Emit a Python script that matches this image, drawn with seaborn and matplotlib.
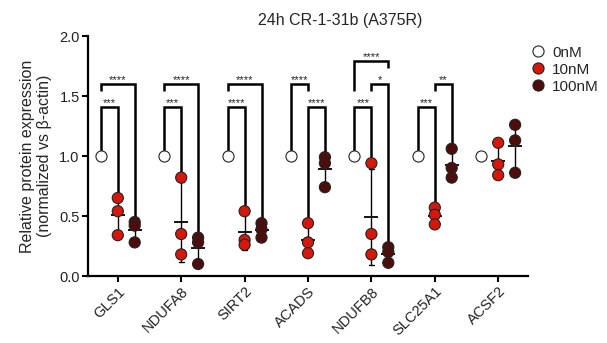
import numpy as np
import pandas as pd
import matplotlib
matplotlib.use("Agg")
import matplotlib.pyplot as plt
from matplotlib.lines import Line2D
import seaborn as sns

# ---------------- data ----------------
genes = ["GLS1", "NDUFA8", "SIRT2", "ACADS", "NDUFB8", "SLC25A1", "ACSF2"]
doses = ["0nM", "10nM", "100nM"]

vals_0nM = [[1.0], [1.0], [1.0], [1.0], [1.0], [1.0], [1.0]]
vals_10nM = [
    [0.65, 0.54, 0.34],
    [0.82, 0.35, 0.18],
    [0.54, 0.30, 0.26],
    [0.44, 0.28, 0.19],
    [0.94, 0.35, 0.18],
    [0.57, 0.51, 0.43],
    [1.11, 0.93, 0.84],
]
vals_100nM = [
    [0.45, 0.42, 0.28],
    [0.32, 0.28, 0.10],
    [0.44, 0.39, 0.32],
    [0.99, 0.94, 0.74],
    [0.24, 0.20, 0.11],
    [1.06, 0.90, 0.82],
    [1.26, 1.13, 0.86],
]

# significance comparisons: (gene, dose_a, dose_b, label, level)
comparisons = [
    ("GLS1", "0nM", "10nM", "***", 1),
    ("GLS1", "0nM", "100nM", "****", 2),
    ("NDUFA8", "0nM", "10nM", "***", 1),
    ("NDUFA8", "0nM", "100nM", "****", 2),
    ("SIRT2", "0nM", "10nM", "****", 1),
    ("SIRT2", "0nM", "100nM", "****", 2),
    ("ACADS", "10nM", "100nM", "****", 1),
    ("ACADS", "0nM", "10nM", "****", 2),
    ("NDUFB8", "0nM", "10nM", "***", 1),
    ("NDUFB8", "10nM", "100nM", "*", 2),
    ("NDUFB8", "0nM", "100nM", "****", 3),
    ("SLC25A1", "0nM", "10nM", "***", 1),
    ("SLC25A1", "10nM", "100nM", "**", 2),
]
level_y = {1: 1.41, 2: 1.60, 3: 1.79}

rows = []
for d, table in zip(doses, [vals_0nM, vals_10nM, vals_100nM]):
    for g, vs in zip(genes, table):
        for v in vs:
            rows.append({"gene": g, "dose": d, "value": v})
df = pd.DataFrame(rows)

# ---------------- style ----------------
sns.set_theme(style="ticks")
plt.rcParams["font.family"] = ["Liberation Sans", "DejaVu Sans"]

fig = plt.figure(figsize=(6.07, 3.43), dpi=100)
ax = fig.add_axes([88 / 607, 1 - 276 / 343, 440 / 607, 240 / 343])

face = {"0nM": "white", "10nM": "#d8170c", "100nM": "#4d0d0a"}

# mean +/- SD
sns.pointplot(
    data=df[df["dose"] != "0nM"], x="gene", y="value", hue="dose",
    order=genes, hue_order=doses, dodge=0.8 * 2 / 3, errorbar="sd",
    capsize=0.08, markers="_", markersize=10, markeredgewidth=1.3,
    linestyle="none", palette={d: "black" for d in doses},
    err_kws={"linewidth": 1.0}, legend=False, ax=ax,
)

# individual points
sns.stripplot(
    data=df, x="gene", y="value", hue="dose", order=genes, hue_order=doses,
    dodge=True, jitter=False, palette=face, size=8, linewidth=0.8,
    edgecolor="#222222", legend=False, ax=ax, zorder=3,
)

# ---------------- brackets ----------------
off = {d: -0.8 / 2 + 0.8 / 3 * (i + 0.5) for i, d in enumerate(doses)}
data_max = df.groupby(["gene", "dose"])["value"].max()
occupied = {}
for g, a, b, lab, lev in sorted(comparisons, key=lambda c: c[4]):
    gi = genes.index(g)
    y = level_y[lev]
    legs = []
    for d in (a, b):
        x = gi + off[d]
        key = (g, d)
        if key in occupied:
            bottom = occupied[key] + 0.13
        else:
            bottom = data_max[(g, d)] + 0.045
        legs.append((x, bottom))
        occupied[key] = y
    (x1, b1), (x2, b2) = legs
    ax.plot([x1, x1, x2, x2], [b1, y, y, b2], color="black", lw=1.8,
            solid_capstyle="butt", solid_joinstyle="miter", zorder=2)
    ax.text((x1 + x2) / 2, y + 0.01, lab, ha="center", va="baseline",
            fontsize=8, color="#222222")

# ---------------- axes ----------------
ax.set_ylim(0, 2.0)
ax.set_xlim(-0.47, 6.47)
ax.set_yticks([0, 0.5, 1.0, 1.5, 2.0])
ax.set_yticklabels(["0.0", "0.5", "1.0", "1.5", "2.0"], fontsize=10.5)
ax.set_xticks(range(len(genes)))
ax.set_xticklabels(genes, rotation=45, ha="right", va="top",
                   rotation_mode="anchor", fontsize=10.5)
ax.set_xlabel("")
ax.set_ylabel("Relative protein expression\n(normalized vs β-actin)",
              fontsize=11.5, labelpad=5)
for s in ["top", "right"]:
    ax.spines[s].set_visible(False)
for s in ["left", "bottom"]:
    ax.spines[s].set_linewidth(1.6)
    ax.spines[s].set_color("black")
ax.tick_params(axis="both", width=1.5, length=4, color="black",
               labelcolor="#222222", pad=2)

fig.text(340 / 607, 1 - 20 / 343, "24h CR-1-31b (A375R)", ha="center",
         va="center", fontsize=11.5)

handles = [Line2D([], [], marker="o", linestyle="none", markersize=8,
                  markerfacecolor=face[d], markeredgecolor="#222222",
                  markeredgewidth=0.8) for d in doses]
fig.legend(handles, doses, loc="upper left",
           bbox_to_anchor=(523 / 607, 1 - 38 / 343), frameon=False,
           borderpad=0, handlelength=1.0, handletextpad=0.4,
           labelspacing=0.2, fontsize=11)

fig.savefig("out.png", dpi=100)
